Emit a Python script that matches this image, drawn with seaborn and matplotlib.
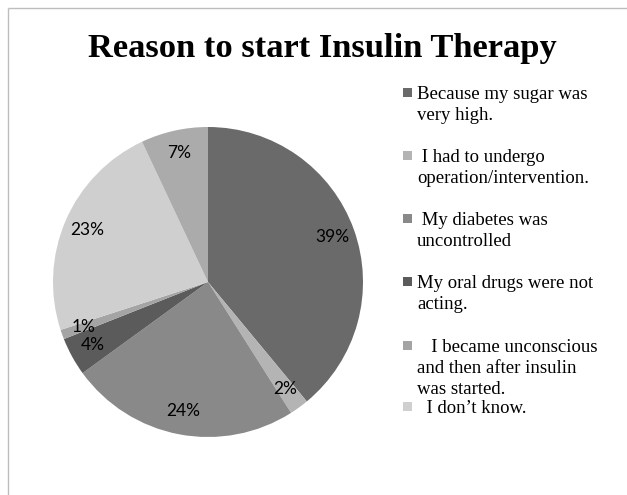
import matplotlib
matplotlib.use("Agg")
import matplotlib.pyplot as plt
import seaborn as sns
from matplotlib.lines import Line2D
from matplotlib.patches import Rectangle

sns.set_theme(style="white")
plt.rcParams['font.family'] = ['Liberation Serif', 'DejaVu Serif']
plt.rcParams['text.color'] = 'black'

title = "Reason to start Insulin Therapy"
values = [39, 2, 24, 4, 1, 23, 7]
pct_labels = ["39%", "2%", "24%", "4%", "1%", "23%", "7%"]
colors = ["#6a6a6a", "#b4b4b4", "#898989", "#5b5b5b", "#a4a4a4", "#cfcfcf", "#ababab"]
legend_labels = [
    "Because my sugar was\nvery high.",
    " I had to undergo\noperation/intervention.",
    " My diabetes was\nuncontrolled",
    "My oral drugs were not\nacting.",
    "   I became unconscious\nand then after insulin\nwas started.",
    "  I don\u2019t know.",
]
legend_baselines = [99, 162, 225, 288, 352, 413]  # pixel y of first line baseline
LINE_H = 21

W, H = 627, 495
fig = plt.figure(figsize=(W / 100, H / 100), dpi=100)
fig.patch.set_facecolor("white")
fig.patch.set_edgecolor("white")
fig.patch.set_linewidth(0)

cx, cy, r = 208, 282, 155
ax = fig.add_axes([(cx - r) / W, (H - cy - r) / H, 2 * r / W, 2 * r / H])
wedges, texts, autotexts = ax.pie(
    values, colors=colors, startangle=90, counterclock=False,
    autopct="%1.0f%%", pctdistance=0.85, radius=1,
    wedgeprops=dict(linewidth=0),
    textprops=dict(family=["Lato", "DejaVu Sans"], fontsize=12.5, color="black"),
)
for t, lab in zip(autotexts, pct_labels):
    t.set_text(lab)
ax.set_xlim(-1, 1)
ax.set_ylim(-1, 1)
ax.set_aspect("equal")
ax.axis("off")

fig.text(322 / W, 1 - 57 / H, title, ha="center", va="baseline", color="black",
         fontsize=24.8, fontweight="bold", family=["Liberation Serif"])

# legend drawn manually
for lab, col, yb in zip(legend_labels, colors, legend_baselines):
    for i, line in enumerate(lab.split("\n")):
        fig.text(417 / W, 1 - (yb + i * LINE_H) / H, line, ha="left", va="baseline",
                 fontsize=13.5, family=["Liberation Serif"], color="black")
    fig.patches.append(Rectangle((403 / W, 1 - (yb - 2) / H), 9 / W, 9 / H,
                                 transform=fig.transFigure, facecolor=col,
                                 edgecolor="none", figure=fig))

# chart frame (left and top edges)
fig.add_artist(Line2D([7.5 / W, 7.5 / W], [0, 1 - 8 / H], transform=fig.transFigure,
                      color="#bdbdbd", linewidth=1, solid_capstyle="butt"))
fig.add_artist(Line2D([7.5 / W, 1], [1 - 8 / H, 1 - 8 / H], transform=fig.transFigure,
                      color="#bdbdbd", linewidth=1, solid_capstyle="butt"))

fig.savefig("out.png", dpi=100, facecolor="white", edgecolor="white")
